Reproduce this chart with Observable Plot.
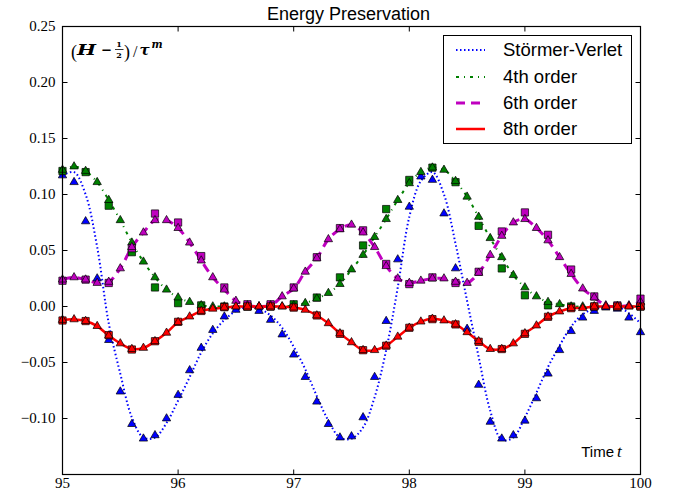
<!DOCTYPE html>
<html><head><meta charset="utf-8">
<script src="https://cdn.jsdelivr.net/npm/d3@7"></script>
<script src="https://cdn.jsdelivr.net/npm/@observablehq/plot@0.6"></script>
<style>
body{margin:0;background:#fff;}
#wrap{position:relative;width:673px;height:492px;overflow:hidden;}
#title{height:22px;width:573px;margin-left:62px;text-align:center;font-family:'Liberation Sans',Arial,sans-serif;font-size:18px;line-height:28px;overflow:visible;white-space:nowrap;}
#legend{position:absolute;left:443px;top:35px;width:187px;height:107px;border:1px solid #000;background:#fff;}
.row{position:absolute;left:0;height:20px;width:187px;}
.row svg{position:absolute;left:12px;top:0;}
.row span{position:absolute;left:59px;top:0;font-family:'Liberation Sans',Arial,sans-serif;font-size:18.5px;line-height:20px;white-space:nowrap;}
</style></head><body>
<div id="wrap"><div id="title">Energy Preservation</div><div id="chart"></div><div id="legend"></div></div>
<script>
const xDomain = [95, 100];
const yDomain = [-0.15, 0.25];
const xTicks = [95, 96, 97, 98, 99, 100];
const yTicks = [-0.10, -0.05, 0.00, 0.05, 0.10, 0.15, 0.20, 0.25];

const times = [95.0,95.1,95.2,95.3,95.4,95.5,95.6,95.7,95.8,95.9,
  96.0,96.1,96.2,96.3,96.4,96.5,96.6,96.7,96.8,96.9,
  97.0,97.1,97.2,97.3,97.4,97.5,97.6,97.7,97.8,97.9,
  98.0,98.1,98.2,98.3,98.4,98.5,98.6,98.7,98.8,98.9,
  99.0,99.1,99.2,99.3,99.4,99.5,99.6,99.7,99.8,99.9,100.0];
const sqTimes = [95.0,95.2,95.4,95.6,95.8,96.0,96.2,96.4,96.6,96.8,
  97.0,97.2,97.4,97.6,97.8,98.0,98.2,98.4,98.6,98.8,
  99.0,99.2,99.4,99.6,99.8,100.0];

const seriesNames = ["Störmer-Verlet", "4th order", "6th order", "8th order"];

// Störmer-Verlet: continuous curve and triangle markers
const svLine = [0.117,0.120,0.100,0.053,-0.015,-0.060,-0.099,-0.117,-0.117,-0.104,
  -0.084,-0.063,-0.041,-0.024,-0.012,-0.004,0.000,-0.002,-0.008,-0.019,
  -0.036,-0.056,-0.080,-0.102,-0.117,-0.118,-0.108,-0.081,-0.039,0.017,
  0.080,0.112,0.120,0.100,0.056,0.005,-0.045,-0.093,-0.119,-0.117,
  -0.099,-0.077,-0.054,-0.035,-0.018,-0.007,-0.002,0.000,0.000,-0.006,-0.015];
const svTri = [0.117,0.111,0.076,0.025,-0.030,-0.076,-0.105,-0.118,-0.115,-0.100,
  -0.079,-0.057,-0.037,-0.021,-0.009,-0.003,-0.001,-0.004,-0.012,-0.025,
  -0.043,-0.063,-0.085,-0.105,-0.117,-0.116,-0.099,-0.063,-0.013,0.042,
  0.089,0.116,0.113,0.083,0.034,-0.020,-0.070,-0.103,-0.118,-0.115,
  -0.102,-0.082,-0.060,-0.039,-0.022,-0.010,-0.004,-0.001,-0.002,-0.010,-0.023];

// 4th order
const o4Tri = [0.122,0.125,0.121,0.111,0.095,0.077,0.057,0.040,0.026,0.015,
  0.008,0.004,0.001,0.000,0.000,0.000,0.000,0.000,0.000,0.000,
  0.001,0.003,0.007,0.012,0.020,0.033,0.046,0.062,0.078,0.095,
  0.110,0.120,0.124,0.122,0.112,0.098,0.080,0.061,0.044,0.028,
  0.017,0.009,0.004,0.002,0.000,0.000,0.000,0.000,0.000,0.000,0.000];
const o4Sq = [0.121,0.120,0.090,0.0485,0.017,0.003,0.001,0.000,0.000,0.000,
  0.002,0.008,0.026,0.0545,0.087,0.113,0.124,0.111,0.072,0.034,
  0.010,0.001,0.000,0.000,0.000,0.000];

// 6th order
const o6Tri = [0.024,0.026,0.024,0.021,0.022,0.034,0.053,0.066,0.077,0.077,
  0.070,0.057,0.041,0.026,0.015,0.005,0.001,0.000,0.001,0.009,
  0.016,0.031,0.043,0.060,0.069,0.073,0.066,0.053,0.036,0.025,
  0.021,0.023,0.025,0.025,0.022,0.021,0.030,0.046,0.063,0.075,
  0.078,0.070,0.059,0.044,0.029,0.016,0.008,0.001,0.000,0.001,0.004];
const o6Sq = [0.023,0.024,0.021,0.052,0.083,0.075,0.045,0.017,0.002,0.002,
  0.017,0.044,0.070,0.068,0.038,0.020,0.026,0.021,0.031,0.067,
  0.084,0.064,0.033,0.009,0.001,0.007];

// 8th order
const o8Tri = [-0.012,-0.0115,-0.013,-0.0175,-0.026,-0.033,-0.038,-0.037,-0.031,-0.0235,
  -0.014,-0.009,-0.004,-0.002,-0.001,0.000,0.000,0.000,0.000,0.000,
  -0.001,-0.003,-0.008,-0.015,-0.024,-0.032,-0.039,-0.039,-0.035,-0.027,
  -0.019,-0.0135,-0.011,-0.0125,-0.016,-0.023,-0.031,-0.038,-0.038,-0.033,
  -0.024,-0.017,-0.009,-0.0045,-0.0015,-0.0015,0.000,0.000,0.000,0.000,0.000];
const o8Sq = [-0.0125,-0.013,-0.0256,-0.0384,-0.031,-0.0137,-0.004,-0.0006,0.000,0.000,
  -0.001,-0.008,-0.0244,-0.039,-0.035,-0.019,-0.0113,-0.016,-0.0315,-0.038,
  -0.0244,-0.0092,-0.0015,0.000,0.000,0.000];

const colors = ["#0000ff", "#008000", "#bf00bf", "#ff0000"];
const dashes = ["1.5,2.5", "3,5,1,5", "9,6", null];
const widths = [2, 2, 3, 2.5];

const rows = (ts, vs) => ts.map((t, i) => ({t, v: vs[i]}));
const lineSets = [svLine, o4Tri, o6Tri, o8Tri];
const triSets = [svTri, o4Tri, o6Tri, o8Tri];
const sqSets = [null, o4Sq, o6Sq, o8Sq];

// inward tick symbols
const sym = (dx, dy) => ({draw(ctx) { ctx.moveTo(0, 0); ctx.lineTo(dx, dy); }});
const T = 5;

const marks = [];
lineSets.forEach((vals, k) => {
  marks.push(Plot.line(rows(times, vals), {x: "t", y: "v", curve: "catmull-rom",
    stroke: colors[k], strokeWidth: widths[k], strokeDasharray: dashes[k], strokeLinecap: "butt"}));
});
triSets.forEach((vals, k) => {
  if (sqSets[k]) marks.push(Plot.dot(rows(sqTimes, sqSets[k]), {x: "t", y: "v", symbol: "square", r: 4.1,
    fill: colors[k], stroke: "#000", strokeWidth: 0.7}));
  marks.push(Plot.dot(rows(times, vals), {x: "t", y: "v", symbol: "triangle", r: 3.1,
    fill: colors[k], stroke: "#000", strokeWidth: 0.7}));
});
marks.push(
  Plot.dot(yTicks, {x: () => xDomain[0], y: d => d, symbol: sym(T, 0), stroke: "#000", fill: "none", strokeWidth: 1}),
  Plot.dot(yTicks, {x: () => xDomain[1], y: d => d, symbol: sym(-T, 0), stroke: "#000", fill: "none", strokeWidth: 1}),
  Plot.dot(xTicks, {x: d => d, y: () => yDomain[1], symbol: sym(0, T), stroke: "#000", fill: "none", strokeWidth: 1}),
  Plot.dot(xTicks, {x: d => d, y: () => yDomain[0], symbol: sym(0, -T), stroke: "#000", fill: "none", strokeWidth: 1}),
  Plot.frame({stroke: "#000", strokeWidth: 1.2})
);

const plot = Plot.plot({
  width: 673, height: 470,
  marginTop: 4, marginBottom: 18, marginLeft: 62, marginRight: 33,
  style: {fontFamily: "'Liberation Serif', 'DejaVu Serif', serif", fontSize: "15px", color: "#000", background: "white", overflow: "visible"},
  x: {domain: xDomain, ticks: xTicks, tickSize: 0, tickPadding: 3, tickFormat: d => String(d), label: null},
  y: {domain: yDomain, ticks: yTicks, tickSize: 0, tickPadding: 7, tickFormat: d3.format(".2f"), label: null},
  marks
});
document.getElementById("chart").appendChild(plot);

// annotations (svg coordinates)
const svg = d3.select(plot);
const ann = svg.append("g").attr("font-family", "'DejaVu Serif', 'Liberation Serif', serif").attr("fill", "#000");
const add = (txt, x, y, size, weight, style, anchor) => ann.append("text").attr("x", x).attr("y", y)
  .attr("font-size", size).attr("font-weight", weight || "normal").attr("font-style", style || "normal")
  .attr("text-anchor", anchor || "start").text(txt);
add("(", 71, 35.5, 18).attr("font-family", "'Liberation Serif', serif");
add("H", 77, 32.5, 15, "bold", "italic").attr("textLength", 19).attr("lengthAdjust", "spacingAndGlyphs");
add("−", 101, 32.5, 15, "bold").attr("textLength", 11).attr("lengthAdjust", "spacingAndGlyphs");
add("1", 119, 25, 8, "bold", null, "middle");
ann.append("line").attr("x1", 115).attr("x2", 123.5).attr("y1", 27.5).attr("y2", 27.5).attr("stroke", "#000").attr("stroke-width", 0.8);
add("2", 119, 36, 8, "bold", null, "middle");
add(")", 124, 35.5, 18).attr("font-family", "'Liberation Serif', serif");
add("/", 133, 35, 16).attr("font-family", "'Liberation Serif', serif");
add("τ", 139.5, 32.5, 15, "bold", "italic");
add("m", 151.5, 25.5, 10.5, "bold", "italic");
add("Time", 614, 435, 15, null, null, "end").attr("font-family", "'Liberation Sans', Arial, sans-serif");
add("t", 617, 435, 17, null, "italic").attr("font-family", "'Liberation Serif', serif");

// legend
const leg = d3.select("#legend");
const centers = [14, 40.5, 66.5, 93];
seriesNames.forEach((name, k) => {
  const r = leg.append("div").attr("class", "row").style("top", (centers[k] - 10) + "px");
  const s = r.append("svg").attr("width", 29).attr("height", 20);
  s.append("line").attr("x1", 0).attr("x2", 29).attr("y1", 10).attr("y2", 10)
    .attr("stroke", colors[k]).attr("stroke-width", widths[k])
    .attr("stroke-dasharray", dashes[k]);
  r.append("span").text(name);
});
</script>
</body></html>
